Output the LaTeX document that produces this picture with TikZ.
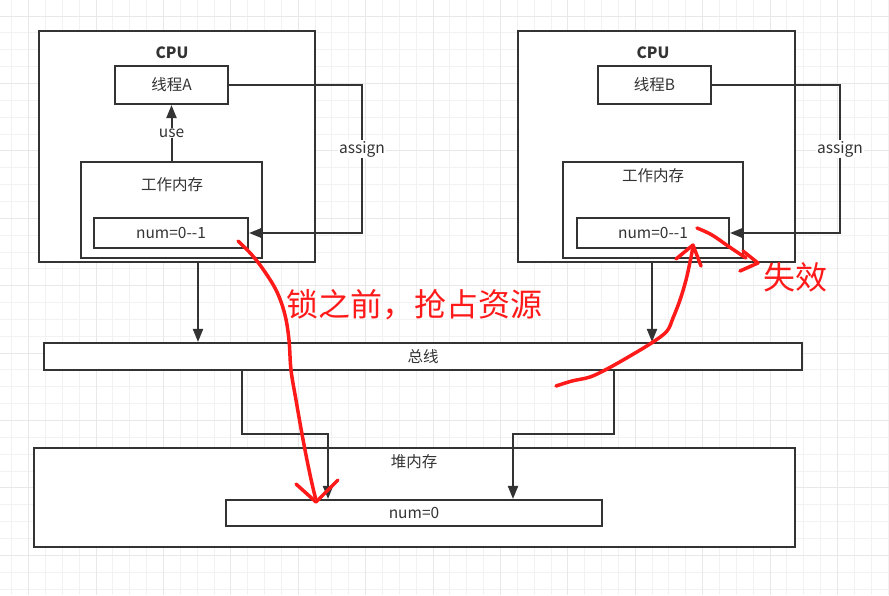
\documentclass[tikz,border=0pt]{standalone}
\usepackage{fontspec}
\setmainfont{Noto Sans CJK SC}
\usetikzlibrary{arrows.meta}
\definecolor{ink}{HTML}{333333}
\definecolor{gridminor}{HTML}{F2F2F2}
\definecolor{gridmajor}{HTML}{E8E8E8}
\definecolor{pen}{HTML}{FF1A1A}
\tikzset{
  box/.style={draw=ink, line width=2.1pt, fill=white, rectangle, inner sep=0pt},
  lbl/.style={text=ink, font=\fontsize{15.5}{17}\selectfont, inner sep=1pt},
  arr/.style={draw=ink, line width=2pt, -{Triangle[length=13pt,width=10pt]}},
  redpen/.style={draw=pen, line width=3.5pt, line cap=round, line join=round},
  redtxt/.style={text=pen, font=\fontsize{32}{34}\selectfont, inner sep=0pt}
}
\newcommand{\dd}{\hbox{-}\hbox{-}}
\begin{document}
\begin{tikzpicture}[x=1pt,y=-1pt]
\useasboundingbox (0,0) rectangle (889,595);
\fill[white] (0,0) rectangle (889,595);
% grid
\foreach \i in {0,...,52} {
  \draw[gridminor, line width=0.8pt] ({11.7+16.85*\i},0) -- ++(0,595);
}
\foreach \i in {0,...,35} {
  \draw[gridminor, line width=0.8pt] (0,{-0.85+16.85*\i}) -- ++(889,0);
}
\foreach \i in {1,5,...,53} {
  \draw[gridmajor, line width=0.8pt] ({11.7+16.85*\i},0) -- ++(0,595);
}
\foreach \i in {1,5,...,35} {
  \draw[gridmajor, line width=0.8pt] (0,{-0.85+16.85*\i}) -- ++(889,0);
}

% ---------- CPU A ----------
\node[box, minimum width=276pt, minimum height=231pt] (cpuA) at (177,146.5) {};
\node[lbl, font=\fontsize{15.5}{17}\selectfont\bfseries] (cpuAt) at (172,53) {CPU};
\node[box, minimum width=113pt, minimum height=38pt, lbl] (thrA) at (171.5,85) {线程A};
\node[box, minimum width=181pt, minimum height=96pt] (wmA) at (171.5,210) {};
\node[lbl] (wmAt) at (172,185) {工作内存};
\node[box, minimum width=154pt, minimum height=30pt, lbl] (numA) at (171,233) {num=0\dd1};

% ---------- CPU B ----------
\node[box, minimum width=277pt, minimum height=231pt] (cpuB) at (656.5,146.5) {};
\node[lbl, font=\fontsize{15.5}{17}\selectfont\bfseries] (cpuBt) at (653,53) {CPU};
\node[box, minimum width=113pt, minimum height=38pt, lbl] (thrB) at (654.5,85) {线程B};
\node[box, minimum width=180pt, minimum height=96pt] (wmB) at (653,210) {};
\node[lbl] (wmBt) at (653,176) {工作内存};
\node[box, minimum width=152pt, minimum height=30pt, lbl] (numB) at (653,233) {num=0\dd1};

% ---------- bus & heap ----------
\node[box, minimum width=758pt, minimum height=27pt, lbl] (bus) at (423,356.5) {总线};
\node[box, minimum width=761pt, minimum height=99pt] (heap) at (414.5,497.5) {};
\node[lbl] (heapt) at (414,462) {堆内存};
\node[box, minimum width=376pt, minimum height=26pt, lbl] (num0) at (414,513) {num=0};

% ---------- connectors ----------
\draw[arr] (wmA.north) -- node[lbl, fill=white] (useA) {use} (thrA.south);

\coordinate (aA) at (362,85);
\draw[arr] (thrA.east) -- (aA) |- (numA.east);
\node[lbl, fill=white] (asgA) at (362,149) {assign};

\coordinate (aB) at (840,85);
\draw[arr] (thrB.east) -- (aB) |- (numB.east);
\node[lbl, fill=white] (asgB) at (840,149) {assign};

\coordinate (dA) at (198,0);
\draw[arr] (cpuA.south -| dA) -- (bus.north -| dA);
\coordinate (dB) at (652,0);
\draw[arr] (cpuB.south -| dB) -- (bus.north -| dB);

\coordinate (tA) at (242,434);
\coordinate (hA) at (328,0);
\draw[arr] (bus.south -| tA) -- (tA) -| (num0.north -| hA);
\coordinate (tB) at (614,434);
\coordinate (hB) at (513,0);
\draw[arr] (bus.south -| tB) -- (tB) -| (num0.north -| hB);

% ---------- red annotations ----------
\draw[redpen] plot[smooth, tension=0.6] coordinates {(238,241) (252,255) (265,272) (277,292) (285,315) (289,340) (291,370) (296,400) (302,434) (308,465) (313,488) (316,500)};
\draw[redpen] (296,484) -- (316,502) -- (338,480);

\draw[redpen] plot[smooth, tension=0.6] coordinates {(556,386) (572,381) (590,377) (607,369) (630,356) (653,342) (667,331) (673,318) (680,300) (686,280) (690,262) (693,247)};
\draw[redpen] (676,259) -- (693,245) -- (701,266);

\draw[redpen] plot[smooth, tension=0.6] coordinates {(697,228) (712,235) (728,246) (746,258)};
\draw[redpen] (743,251) -- (758,263) -- (740,271);

\node[redtxt] (lockt) at (414,305) {锁之前，抢占资源};
\node[redtxt] (failt) at (795,277) {失效};
\end{tikzpicture}
\end{document}
